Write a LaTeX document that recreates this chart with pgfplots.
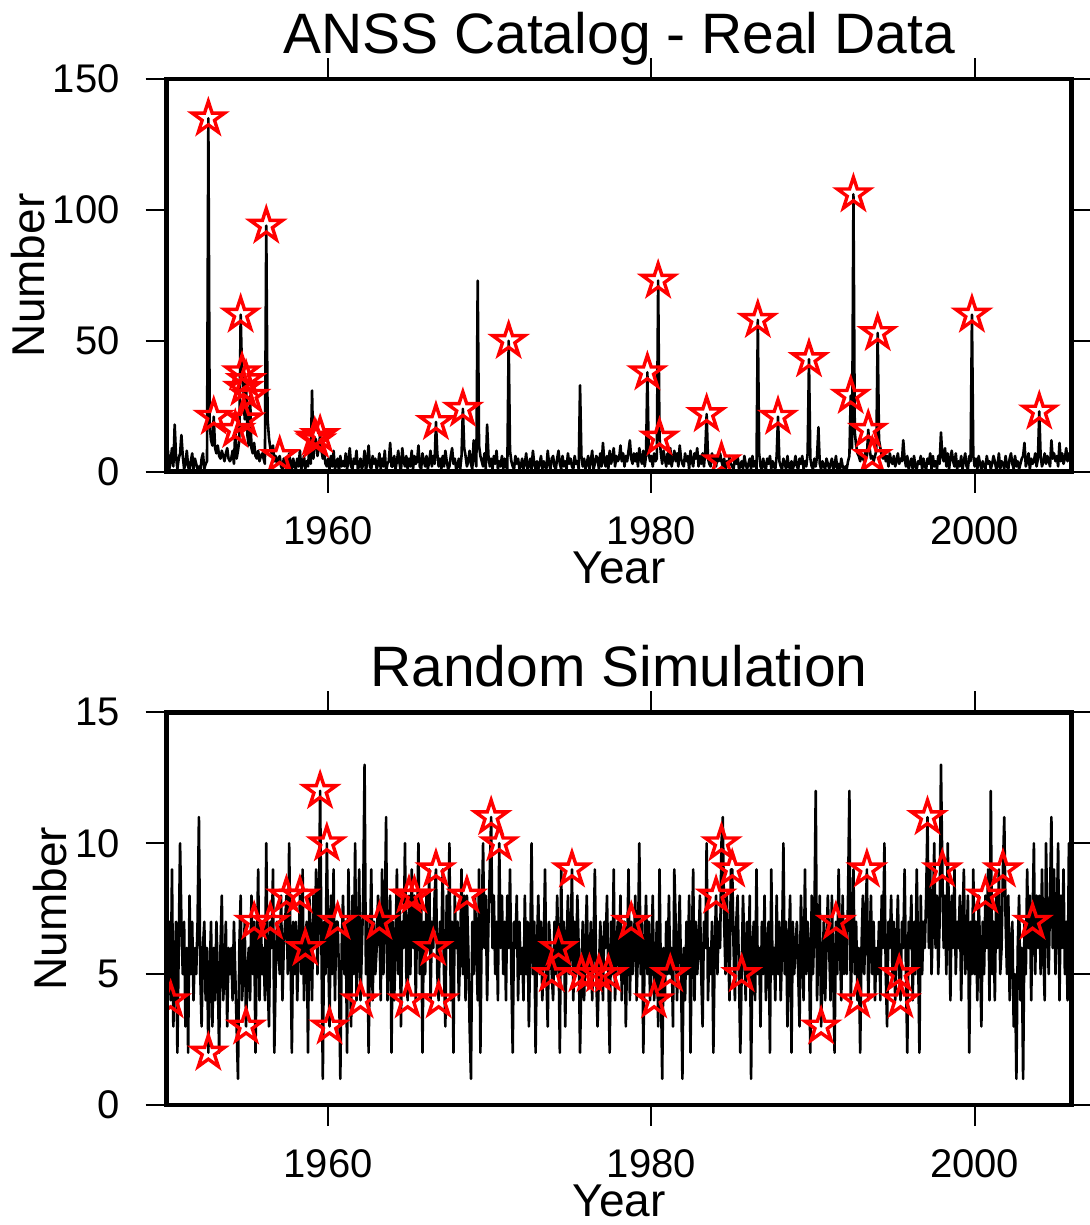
\documentclass[border=0pt]{standalone}
\usepackage{fontspec}
\setmainfont{Liberation Sans}
\usepackage{pgfplots}
\usepackage{pgfplotstable}
\pgfplotsset{compat=1.18}

% open five-pointed star, like GMT's -Sa
\pgfdeclareplotmark{fivestar}{%
  \pgfpathmoveto{\pgfpointpolar{90}{\pgfplotmarksize}}%
  \pgfpathlineto{\pgfpointpolar{126}{0.382\pgfplotmarksize}}%
  \pgfpathlineto{\pgfpointpolar{162}{\pgfplotmarksize}}%
  \pgfpathlineto{\pgfpointpolar{198}{0.382\pgfplotmarksize}}%
  \pgfpathlineto{\pgfpointpolar{234}{\pgfplotmarksize}}%
  \pgfpathlineto{\pgfpointpolar{270}{0.382\pgfplotmarksize}}%
  \pgfpathlineto{\pgfpointpolar{306}{\pgfplotmarksize}}%
  \pgfpathlineto{\pgfpointpolar{342}{0.382\pgfplotmarksize}}%
  \pgfpathlineto{\pgfpointpolar{18}{\pgfplotmarksize}}%
  \pgfpathlineto{\pgfpointpolar{54}{0.382\pgfplotmarksize}}%
  \pgfpathclose\pgfusepathqstroke}

\pgfplotsset{gmt/.style={
  scale only axis, width=452.5pt, height=196.3pt,
  xmin=1950, xmax=2006, xtick={1960,1980,2000},
  tick align=outside, tick pos=both,
  xticklabel pos=lower, yticklabel pos=left,
  major tick length=10.5pt,
  every tick/.style={black, line width=1pt},
  axis line style={line width=2.2pt},
  axis on top, clip marker paths=true,
  /pgf/number format/1000 sep={},
  /pgf/number format/assume math mode=true,
  tick label style={font=\fontsize{20}{24}\selectfont},
  xticklabel style={yshift=-8.5pt},
  yticklabel style={xshift=-9.5pt},
  label style={font=\fontsize{23}{27}\selectfont},
  xlabel style={yshift=3.5pt},
  ylabel style={yshift=-3pt},
  title style={font=\fontsize{28.5}{32}\selectfont, at={(0.5,1)}, anchor=base, yshift=7pt},
  xlabel=Year, ylabel=Number,
}}

% months since Jan 1950 and count, for the starred events
\pgfplotstableread{
m v
31 135
35 21
51 16
55 60
56 38
57 32
58 20
59 35
62 29
74 94
84 6
110 13
111 12
114 14
200 19
220 24
254 50
357 38
365 73
366 13
401 22
412 4
439 58
454 21
477 43
508 29
510 106
521 16
524 6
528 53
598 60
648 23
}\realstars

\pgfplotstableread{
m v
3 4
31 2
59 3
65 7
77 7
89 8
99 8
103 6
114 12
119 10
121 3
127 7
144 4
158 7
179 4
180 8
184 8
198 6
200 9
202 4
223 8
241 11
247 10
286 5
291 6
301 9
308 5
314 5
321 5
328 5
345 7
362 4
374 5
408 8
412 10
420 9
427 5
486 3
497 7
513 4
520 9
544 5
545 4
565 11
576 9
608 8
621 9
643 7
}\simstars

\begin{document}
\begin{tikzpicture}
\useasboundingbox (0,0) rectangle (544.5pt,612.5pt);

\begin{axis}[gmt, at={(83.3pt,376.65pt)}, anchor=south west,
  ymin=0, ymax=150, ytick={0,50,100,150},
  title={ANSS Catalog - Real Data}]
\addplot[black, line width=1.3pt, line join=round, mark=none]
  table[x expr=1950+\coordindex/12, y index=0, header=false, row sep=\\] {
3\\8\\1\\4\\9\\2\\18\\6\\1\\5\\7\\14\\
6\\1\\3\\8\\2\\0\\4\\7\\1\\5\\3\\1\\
2\\0\\5\\7\\1\\3\\4\\135\\18\\12\\10\\21\\
9\\7\\10\\6\\5\\8\\6\\4\\7\\9\\5\\4\\
5\\8\\3\\16\\5\\8\\12\\60\\38\\32\\20\\35\\
14\\10\\29\\9\\7\\11\\6\\5\\8\\4\\6\\7\\
5\\3\\94\\20\\13\\9\\7\\10\\4\\6\\3\\5\\
6\\2\\1\\5\\3\\0\\2\\7\\3\\1\\5\\2\\
1\\5\\2\\8\\1\\3\\6\\1\\4\\2\\9\\3\\
31\\5\\13\\12\\6\\9\\14\\8\\5\\7\\3\\2\\
5\\1\\6\\2\\8\\1\\3\\5\\0\\6\\2\\4\\
2\\7\\1\\4\\9\\2\\1\\5\\3\\8\\1\\2\\
5\\1\\3\\8\\0\\4\\10\\2\\1\\6\\3\\5\\
1\\3\\7\\1\\5\\2\\8\\0\\3\\4\\11\\2\\
2\\6\\1\\4\\8\\3\\0\\9\\4\\2\\6\\1\\
5\\2\\8\\1\\6\\3\\4\\10\\2\\1\\7\\4\\
2\\6\\1\\4\\8\\2\\6\\3\\19\\7\\2\\5\\
1\\6\\2\\8\\4\\1\\2\\6\\9\\3\\5\\1\\
2\\5\\1\\6\\24\\9\\6\\2\\4\\8\\3\\1\\
12\\5\\2\\73\\10\\6\\4\\2\\7\\1\\18\\6\\
2\\5\\1\\6\\3\\8\\1\\4\\2\\6\\1\\5\\
2\\1\\50\\8\\4\\2\\1\\6\\3\\5\\1\\2\\
5\\1\\3\\7\\1\\2\\5\\1\\8\\3\\1\\4\\
1\\3\\6\\1\\4\\2\\1\\8\\3\\1\\5\\6\\
2\\1\\5\\8\\3\\1\\6\\2\\4\\1\\7\\3\\
5\\2\\1\\6\\3\\4\\1\\33\\6\\2\\5\\1\\
3\\6\\1\\4\\8\\1\\3\\6\\5\\1\\7\\2\\
11\\4\\2\\6\\1\\8\\3\\5\\9\\2\\6\\4\\
5\\10\\4\\7\\2\\6\\4\\8\\12\\5\\3\\7\\
4\\7\\2\\9\\5\\3\\8\\2\\6\\38\\7\\4\\
6\\2\\7\\4\\5\\73\\13\\7\\3\\8\\5\\2\\
7\\3\\9\\2\\5\\8\\4\\7\\2\\10\\5\\3\\
2\\7\\4\\6\\1\\8\\4\\2\\7\\5\\9\\2\\
6\\3\\7\\2\\8\\22\\5\\3\\2\\7\\4\\6\\
2\\6\\4\\7\\4\\2\\5\\1\\4\\2\\6\\3\\
2\\1\\5\\3\\6\\1\\2\\4\\1\\6\\3\\1\\
3\\5\\1\\6\\2\\4\\1\\58\\7\\2\\1\\5\\
2\\1\\5\\3\\6\\1\\4\\2\\1\\6\\21\\4\\
2\\1\\5\\3\\1\\6\\2\\1\\4\\1\\3\\6\\
2\\1\\5\\3\\6\\1\\4\\2\\7\\43\\5\\2\\
1\\5\\2\\6\\17\\3\\1\\4\\2\\1\\5\\3\\
1\\3\\5\\1\\2\\6\\1\\3\\1\\5\\2\\1\\
2\\1\\4\\6\\29\\9\\106\\15\\10\\7\\6\\4\\
7\\5\\4\\8\\6\\16\\9\\5\\6\\4\\6\\8\\
53\\12\\9\\6\\5\\8\\4\\6\\2\\7\\4\\3\\
6\\2\\4\\7\\3\\5\\4\\12\\5\\2\\6\\1\\
3\\5\\1\\6\\2\\1\\4\\3\\6\\1\\5\\2\\
1\\5\\3\\7\\1\\6\\2\\4\\1\\6\\3\\15\\
6\\4\\9\\2\\7\\1\\5\\8\\4\\2\\7\\1\\
4\\2\\6\\1\\4\\7\\2\\1\\6\\4\\60\\6\\
2\\5\\1\\6\\3\\1\\4\\2\\1\\6\\3\\4\\
1\\3\\6\\4\\1\\2\\7\\1\\4\\3\\1\\6\\
2\\1\\5\\7\\3\\1\\6\\2\\4\\1\\3\\5\\
6\\11\\2\\4\\7\\1\\5\\3\\4\\7\\2\\5\\
23\\6\\2\\4\\7\\3\\6\\4\\2\\12\\5\\7\\
4\\6\\2\\11\\4\\7\\3\\5\\9\\4\\7\\6\\
};
\addplot[red, line width=1.7pt, only marks, mark=fivestar, mark size=8.5pt]
  table[x expr=1950+\thisrow{m}/12, y=v] {\realstars};
\end{axis}

\begin{axis}[gmt, at={(83.3pt,60pt)}, anchor=south west,
  ymin=0, ymax=15, ytick={0,5,10,15},
  title={Random Simulation}]
\addplot[black, line width=1.3pt, line join=round, mark=none]
  table[x expr=1950+\coordindex/12, y index=0, header=false, row sep=\\] {
8\\6\\7\\4\\9\\3\\5\\7\\2\\6\\10\\7\\
5\\7\\3\\6\\2\\8\\5\\7\\4\\6\\5\\7\\
11\\5\\3\\6\\7\\4\\6\\2\\5\\7\\3\\6\\
4\\7\\5\\2\\6\\8\\4\\5\\7\\3\\6\\5\\
6\\4\\7\\5\\3\\1\\6\\8\\4\\5\\7\\3\\
5\\6\\4\\8\\5\\7\\2\\6\\9\\4\\7\\5\\
6\\4\\10\\5\\3\\7\\6\\9\\2\\5\\7\\6\\
5\\8\\4\\6\\7\\8\\5\\10\\6\\2\\7\\5\\
7\\4\\6\\8\\5\\9\\4\\6\\7\\2\\8\\6\\
4\\8\\6\\9\\5\\7\\12\\6\\1\\7\\5\\10\\
6\\3\\8\\5\\9\\4\\7\\7\\5\\1\\6\\8\\
5\\7\\2\\9\\6\\3\\8\\5\\10\\4\\6\\9\\
4\\6\\8\\13\\5\\7\\2\\6\\9\\4\\7\\5\\
6\\8\\7\\4\\9\\5\\7\\11\\4\\6\\8\\2\\
7\\4\\6\\9\\5\\8\\3\\7\\6\\10\\5\\4\\
8\\5\\9\\6\\8\\4\\7\\10\\5\\8\\2\\7\\
5\\8\\6\\9\\4\\7\\6\\8\\9\\5\\4\\7\\
6\\9\\5\\3\\8\\6\\10\\4\\7\\2\\8\\6\\
7\\4\\6\\9\\5\\8\\4\\8\\6\\3\\1\\7\\
5\\8\\6\\4\\9\\2\\7\\10\\6\\8\\4\\7\\
9\\11\\6\\8\\5\\7\\4\\10\\6\\8\\5\\7\\
4\\8\\6\\9\\5\\2\\7\\6\\8\\4\\7\\5\\
6\\4\\8\\5\\7\\3\\6\\10\\5\\7\\2\\6\\
8\\5\\7\\4\\6\\9\\5\\3\\7\\6\\5\\4\\
7\\5\\8\\6\\2\\9\\5\\7\\3\\6\\8\\5\\
6\\9\\4\\7\\5\\8\\6\\2\\5\\7\\4\\6\\
8\\5\\5\\7\\4\\6\\9\\5\\3\\5\\7\\6\\
4\\7\\6\\8\\5\\2\\7\\5\\9\\4\\6\\7\\
5\\8\\4\\6\\7\\3\\6\\9\\4\\7\\5\\6\\
8\\4\\6\\10\\5\\7\\2\\6\\8\\5\\7\\4\\
6\\8\\4\\5\\7\\3\\9\\5\\1\\6\\4\\7\\
5\\8\\5\\6\\3\\9\\7\\4\\6\\8\\5\\1\\
6\\4\\7\\5\\8\\2\\6\\9\\4\\7\\5\\6\\
8\\5\\3\\7\\6\\10\\4\\6\\5\\7\\2\\6\\
8\\5\\7\\6\\10\\11\\7\\5\\8\\6\\4\\9\\
9\\6\\4\\7\\8\\5\\2\\5\\8\\6\\4\\7\\
5\\8\\1\\6\\7\\4\\9\\5\\6\\3\\7\\5\\
8\\4\\6\\7\\2\\9\\5\\6\\4\\8\\5\\7\\
4\\6\\10\\5\\7\\3\\6\\8\\2\\7\\5\\6\\
7\\5\\3\\8\\6\\4\\9\\5\\7\\6\\2\\8\\
5\\7\\12\\4\\6\\8\\3\\5\\7\\4\\6\\8\\
6\\4\\8\\5\\2\\7\\5\\9\\6\\4\\8\\5\\
7\\5\\8\\12\\4\\6\\9\\5\\7\\4\\6\\2\\
6\\8\\5\\7\\9\\4\\6\\8\\5\\7\\4\\6\\
5\\7\\4\\8\\6\\10\\5\\3\\7\\6\\8\\5\\
7\\4\\6\\8\\5\\4\\7\\6\\9\\5\\2\\7\\
6\\8\\4\\7\\5\\9\\6\\2\\8\\5\\7\\6\\
8\\11\\6\\9\\5\\7\\10\\6\\8\\5\\7\\13\\
9\\6\\8\\5\\10\\7\\4\\8\\6\\9\\5\\7\\
6\\8\\4\\7\\9\\5\\6\\8\\2\\7\\5\\9\\
5\\7\\4\\8\\6\\3\\7\\5\\8\\6\\9\\4\\
12\\5\\7\\4\\8\\6\\9\\5\\6\\9\\11\\7\\
5\\8\\4\\6\\7\\3\\5\\1\\6\\8\\4\\6\\
1\\7\\5\\9\\6\\8\\4\\7\\10\\5\\8\\6\\
8\\5\\9\\6\\4\\10\\7\\5\\8\\11\\6\\9\\
5\\7\\10\\4\\8\\6\\9\\5\\7\\4\\10\\6\\
};
\addplot[red, line width=1.7pt, only marks, mark=fivestar, mark size=8.5pt]
  table[x expr=1950+\thisrow{m}/12, y=v] {\simstars};
\end{axis}
\end{tikzpicture}
\end{document}
